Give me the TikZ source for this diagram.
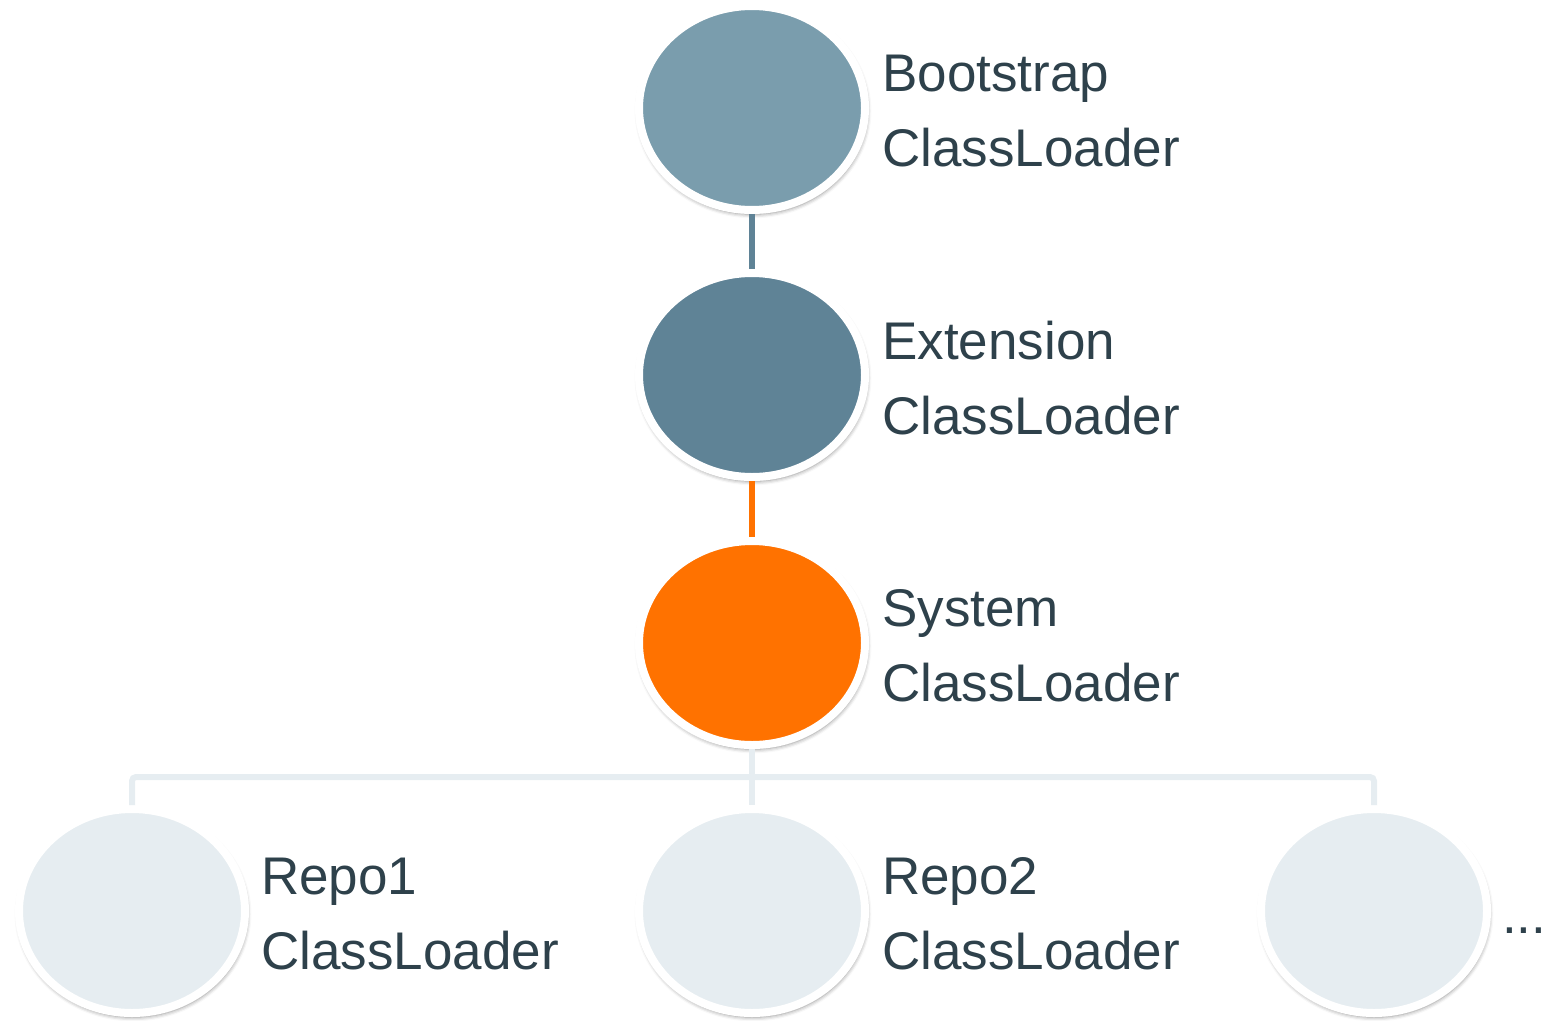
\documentclass[tikz,border=0pt]{standalone}
\usepackage{fontspec}
\setmainfont{Liberation Sans}
\usetikzlibrary{shapes.geometric,shadows.blur}

\definecolor{bootfill}{HTML}{7A9DAD}
\definecolor{extfill}{HTML}{5F8396}
\definecolor{sysfill}{HTML}{FF7200}
\definecolor{repofill}{HTML}{E6EDF1}
\definecolor{labeltext}{HTML}{2E414B}

\tikzset{
  loader/.style={ellipse, draw=white, line width=8pt, inner sep=0pt,
    minimum width=226pt, minimum height=204pt,
    blur shadow={shadow xshift=1pt, shadow yshift=-3pt, shadow scale=1.012,
      shadow blur radius=4pt, shadow opacity=45}},
  label text/.style={anchor=west, align=left, inner sep=0pt,
    text=labeltext, font=\fontsize{53pt}{75pt}\selectfont},
  link/.style={line width=6pt},
}

\begin{document}
\begin{tikzpicture}[x=1pt, y=-1pt]
  \useasboundingbox (0,0) rectangle (1546,1020);

  % class loader hierarchy
  \node[loader, fill=bootfill] (boot) at (752,108) {};
  \node[loader, fill=extfill]  (ext)  at (752,375) {};
  \node[loader, fill=sysfill]  (sys)  at (752,643) {};
  \node[loader, fill=repofill] (repo1) at (132,911) {};
  \node[loader, fill=repofill] (repo2) at (752,911) {};
  \node[loader, fill=repofill] (repo3) at (1374,911) {};

  % labels
  \node[label text] (bootlbl)  at (882,111) {Bootstrap\\ClassLoader};
  \node[label text] (extlbl)   at (882,378) {Extension\\ClassLoader};
  \node[label text] (syslbl)   at (882,646) {System\\ClassLoader};
  \node[label text] (repo1lbl) at (261,914) {Repo1\\ClassLoader};
  \node[label text] (repo2lbl) at (882,914) {Repo2\\ClassLoader};
  \node[label text, anchor=base west] (morelbl) at (1502,933) {...};

  % parent links
  \draw[link, extfill] (boot) -- (ext);
  \draw[link, sysfill] (ext) -- (sys);

  % children of the system loader
  \coordinate (bar) at (752,777);
  \draw[link, repofill] (sys) -- (repo2);
  \draw[link, repofill, rounded corners=4pt]
    (repo1.north) -- (repo1 |- bar) -- (repo3 |- bar) -- (repo3.north);
\end{tikzpicture}
\end{document}
